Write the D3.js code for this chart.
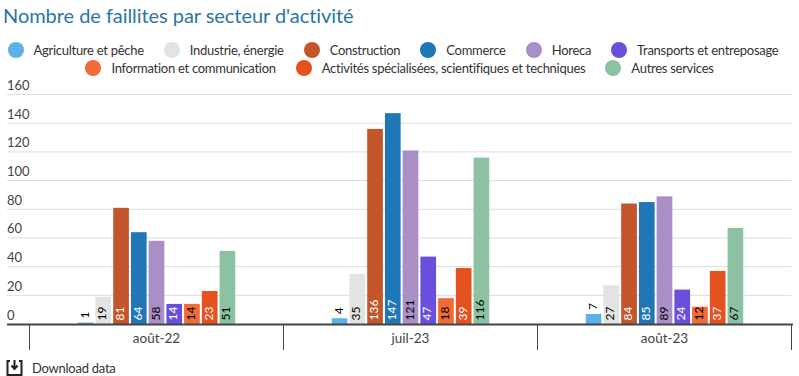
<!DOCTYPE html>
<html lang="fr">
<head>
    <meta charset="UTF-8">
    <title>Nombre de faillites par secteur d'activité</title>
    <script src="https://d3js.org/d3.v7.min.js"></script>
    <style>
        body { margin: 0; background: #fff; font-family: Lato, sans-serif; color: #333; width: 799px; height: 376px; overflow: hidden; position: relative; }
        h2 { position: absolute; left: 3px; top: 2px; margin: 0; font-weight: 400; font-size: 20px; line-height: 26px; letter-spacing: -0.05px; color: #2b75a6; white-space: nowrap; }
        #legend { position: absolute; left: -16px; top: 41px; width: 831px; display: flex; flex-wrap: wrap; justify-content: center; }
        .item { display: flex; align-items: center; height: 18px; margin: 0 10px; font-size: 13px; letter-spacing: -0.28px; white-space: nowrap; }
        .item:nth-child(6) { margin-right: 23px; }
        .dot { width: 16px; height: 16px; border-radius: 50%; margin-right: 10px; }
        svg { position: absolute; left: 0; top: 0; }
        .grid line { stroke: #ddd; }
        .y text { font-family: Lato, sans-serif; font-size: 13px; fill: #444; }
        .x text { font-family: Lato, sans-serif; font-size: 13.5px; fill: #444; }
        .val { font-family: Lato, sans-serif; font-size: 12px; }
        #dl { position: absolute; left: 32px; top: 360px; font-size: 13px; line-height: 16px; letter-spacing: -0.25px; }
    </style>
</head>
<body>
    <h2>Nombre de faillites par secteur d'activité</h2>
    <div id="legend"></div>
    <svg id="chart" width="799" height="376"></svg>
    <div id="dl">Download data</div>

    <script>
        const periods = ["août-22", "juil-23", "août-23"];
        const sectors = ["Agriculture et pêche", "Industrie, énergie", "Construction", "Commerce", "Horeca",
            "Transports et entreposage", "Information et communication",
            "Activités spécialisées, scientifiques et techniques", "Autres services"];
        const colors = ["#5bb2e6", "#e3e3e3", "#c4552b", "#1f77b8", "#a98fc6", "#6a4fdc", "#f26a35", "#e4521f", "#8cc2a2"];
        const labelColors = ["#000", "#000", "#fff", "#fff", "#000", "#fff", "#000", "#fff", "#000"];
        const aout22 = [1, 19, 81, 64, 58, 14, 14, 23, 51];
        const juil23 = [4, 35, 136, 147, 121, 47, 18, 39, 116];
        const aout23 = [7, 27, 84, 85, 89, 24, 12, 37, 67];
        const yTicks = [0, 20, 40, 60, 80, 100, 120, 140, 160];
        const series = [aout22, juil23, aout23];

        const svg = d3.select("#chart");
        const plotLeft = 29.5, plotRight = 791.5, plotTop = 94.5, plotBottom = 324;

        const legend = d3.select("#legend").selectAll(".item").data(sectors).enter()
            .append("div").attr("class", "item");
        legend.append("span").attr("class", "dot").style("background", (d, i) => colors[i]);
        legend.append("span").text(d => d);

        const x = d3.scaleBand().domain(periods).range([plotLeft, plotRight]);
        const inner = d3.scaleBand().domain(sectors).range([0, 157.5]).paddingInner(0.115);
        const y = d3.scaleLinear().domain([0, 160]).range([plotBottom, plotTop]);

        svg.append("g").attr("class", "grid").selectAll("line").data(yTicks.slice(1)).enter()
            .append("line")
            .attr("x1", 7).attr("x2", plotRight)
            .attr("y1", d => y(d)).attr("y2", d => y(d));

        svg.append("g").attr("class", "y").selectAll("text").data(yTicks).enter()
            .append("text")
            .attr("x", 7).attr("y", d => y(d) - 4.5)
            .text(d => d);

        const groups = svg.selectAll(".period").data(periods).enter()
            .append("g").attr("class", "period")
            .attr("transform", d => `translate(${x(d) + (x.bandwidth() - 157.5) / 2},0)`);

        const cells = groups.selectAll(".cell")
            .data((d, i) => series[i].map((v, j) => ({ v, name: sectors[j], j })))
            .enter().append("g").attr("class", "cell");

        cells.append("rect")
            .attr("x", d => inner(d.name))
            .attr("width", inner.bandwidth())
            .attr("y", d => y(d.v))
            .attr("height", d => y(0) - y(d.v))
            .attr("fill", d => colors[d.j]);

        // short bars carry the number above them
        cells.append("text")
            .attr("class", "val")
            .attr("transform", d => {
                const cx = inner(d.name) + inner.bandwidth() / 2;
                const base = d.v < 10 ? y(d.v) - 4 : y(0) - 3.5;
                return `translate(${cx + 3},${base}) rotate(-90)`;
            })
            .attr("fill", d => d.v < 10 ? "#000" : labelColors[d.j])
            .text(d => d.v);

        // axis line with separators between periods
        const xAxis = svg.append("g").attr("class", "x");
        xAxis.append("line").attr("x1", 7).attr("x2", plotRight + 1.5).attr("y1", plotBottom + 0.5).attr("y2", plotBottom + 0.5)
            .attr("stroke", "#444").attr("stroke-width", 2);
        xAxis.selectAll(".sep").data(periods.concat("end")).enter().append("line")
            .attr("class", "sep")
            .attr("x1", (d, i) => plotLeft + i * x.bandwidth()).attr("x2", (d, i) => plotLeft + i * x.bandwidth())
            .attr("y1", plotBottom).attr("y2", 350)
            .attr("stroke", "#444");
        xAxis.selectAll("text").data(periods).enter().append("text")
            .attr("x", d => x(d) + x.bandwidth() / 2).attr("y", 342.5)
            .attr("text-anchor", "middle")
            .text(d => d);

        // download icon
        const icon = svg.append("g").attr("fill", "none").attr("stroke", "#222").attr("stroke-width", 2);
        icon.append("path").attr("d", "M10 361H7.5V375H21.5V361H19");
        icon.append("path").attr("d", "M14.5 360V368M11.5 365.5L14.5 369L17.5 365.5");
    </script>
</body>
</html>
